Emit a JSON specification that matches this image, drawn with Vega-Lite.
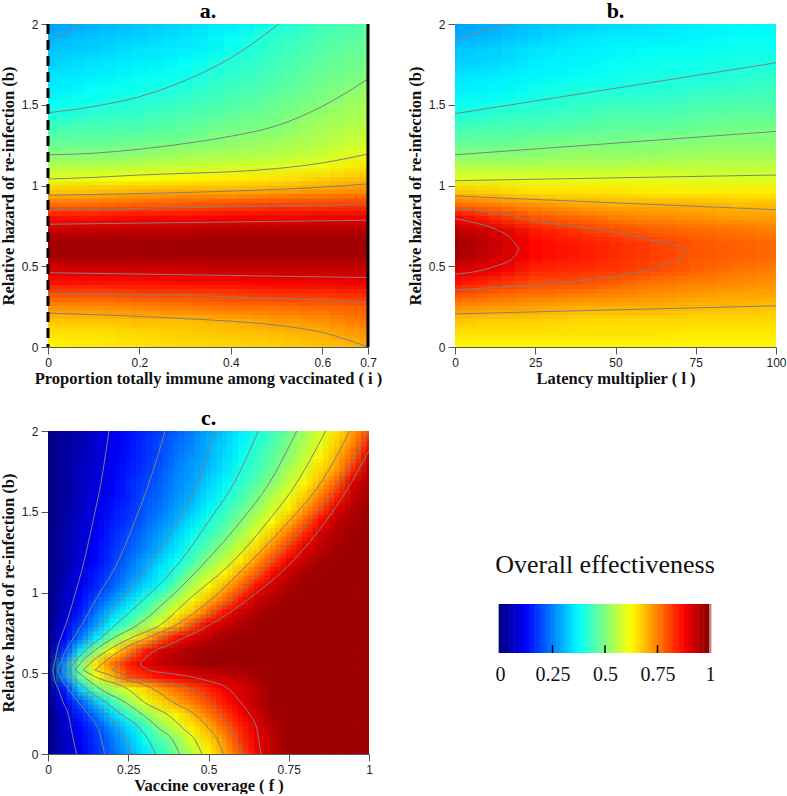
{"$schema":"https://vega.github.io/schema/vega-lite/v6.json","padding":0,"background":"white","config":{"view":{"stroke":null},"axis":{"grid":false,"labelFont":"Liberation Sans","labelFontSize":12,"labelColor":"#222","tickColor":"#555","domainColor":"#555","tickSize":7,"labelPadding":3,"titleFont":"Liberation Serif","titleFontWeight":"bold","titleFontSize":16.5,"titleColor":"#111","labelFlush":false,"labelOverlap":false},"title":{"font":"Liberation Serif","fontWeight":"bold","fontSize":22,"color":"#000","offset":-5}},
"datasets":{
"a":[{"x":0,"y":0,"v":63},{"x":0,"y":0.08,"v":65},{"x":0,"y":0.16,"v":68},{"x":0,"y":0.24,"v":73},{"x":0,"y":0.32,"v":79},{"x":0,"y":0.4,"v":86},{"x":0,"y":0.48,"v":91},{"x":0,"y":0.56,"v":96},{"x":0,"y":0.64,"v":97},{"x":0,"y":0.72,"v":93},{"x":0,"y":0.8,"v":86},{"x":0,"y":0.88,"v":77},{"x":0,"y":0.96,"v":68},{"x":0,"y":1.04,"v":60},{"x":0,"y":1.12,"v":55},{"x":0,"y":1.2,"v":50},{"x":0,"y":1.28,"v":47},{"x":0,"y":1.36,"v":44},{"x":0,"y":1.44,"v":40},{"x":0,"y":1.52,"v":38},{"x":0,"y":1.6,"v":36},{"x":0,"y":1.68,"v":35},{"x":0,"y":1.76,"v":33},{"x":0,"y":1.84,"v":32},{"x":0,"y":1.92,"v":30},{"x":0,"y":2,"v":28},
{"x":0.1,"y":0,"v":64},{"x":0.1,"y":0.08,"v":65},{"x":0.1,"y":0.16,"v":68},{"x":0.1,"y":0.24,"v":73},{"x":0.1,"y":0.32,"v":79},{"x":0.1,"y":0.4,"v":86},{"x":0.1,"y":0.48,"v":92},{"x":0.1,"y":0.56,"v":96},{"x":0.1,"y":0.64,"v":97},{"x":0.1,"y":0.72,"v":93},{"x":0.1,"y":0.8,"v":86},{"x":0.1,"y":0.88,"v":77},{"x":0.1,"y":0.96,"v":69},{"x":0.1,"y":1.04,"v":61},{"x":0.1,"y":1.12,"v":55},{"x":0.1,"y":1.2,"v":50},{"x":0.1,"y":1.28,"v":47},{"x":0.1,"y":1.36,"v":45},{"x":0.1,"y":1.44,"v":42},{"x":0.1,"y":1.52,"v":39},{"x":0.1,"y":1.6,"v":38},{"x":0.1,"y":1.68,"v":36},{"x":0.1,"y":1.76,"v":35},{"x":0.1,"y":1.84,"v":33},{"x":0.1,"y":1.92,"v":32},{"x":0.1,"y":2,"v":30},
{"x":0.2,"y":0,"v":65},{"x":0.2,"y":0.08,"v":66},{"x":0.2,"y":0.16,"v":69},{"x":0.2,"y":0.24,"v":74},{"x":0.2,"y":0.32,"v":80},{"x":0.2,"y":0.4,"v":86},{"x":0.2,"y":0.48,"v":92},{"x":0.2,"y":0.56,"v":96},{"x":0.2,"y":0.64,"v":97},{"x":0.2,"y":0.72,"v":94},{"x":0.2,"y":0.8,"v":87},{"x":0.2,"y":0.88,"v":78},{"x":0.2,"y":0.96,"v":70},{"x":0.2,"y":1.04,"v":62},{"x":0.2,"y":1.12,"v":56},{"x":0.2,"y":1.2,"v":51},{"x":0.2,"y":1.28,"v":48},{"x":0.2,"y":1.36,"v":45},{"x":0.2,"y":1.44,"v":43},{"x":0.2,"y":1.52,"v":41},{"x":0.2,"y":1.6,"v":39},{"x":0.2,"y":1.68,"v":38},{"x":0.2,"y":1.76,"v":36},{"x":0.2,"y":1.84,"v":35},{"x":0.2,"y":1.92,"v":33},{"x":0.2,"y":2,"v":32},
{"x":0.3,"y":0,"v":66},{"x":0.3,"y":0.08,"v":67},{"x":0.3,"y":0.16,"v":69},{"x":0.3,"y":0.24,"v":75},{"x":0.3,"y":0.32,"v":80},{"x":0.3,"y":0.4,"v":87},{"x":0.3,"y":0.48,"v":92},{"x":0.3,"y":0.56,"v":96},{"x":0.3,"y":0.64,"v":97},{"x":0.3,"y":0.72,"v":94},{"x":0.3,"y":0.8,"v":87},{"x":0.3,"y":0.88,"v":79},{"x":0.3,"y":0.96,"v":71},{"x":0.3,"y":1.04,"v":63},{"x":0.3,"y":1.12,"v":57},{"x":0.3,"y":1.2,"v":53},{"x":0.3,"y":1.28,"v":49},{"x":0.3,"y":1.36,"v":47},{"x":0.3,"y":1.44,"v":45},{"x":0.3,"y":1.52,"v":43},{"x":0.3,"y":1.6,"v":41},{"x":0.3,"y":1.68,"v":39},{"x":0.3,"y":1.76,"v":38},{"x":0.3,"y":1.84,"v":36},{"x":0.3,"y":1.92,"v":35},{"x":0.3,"y":2,"v":34},
{"x":0.4,"y":0,"v":66},{"x":0.4,"y":0.08,"v":68},{"x":0.4,"y":0.16,"v":70},{"x":0.4,"y":0.24,"v":76},{"x":0.4,"y":0.32,"v":81},{"x":0.4,"y":0.4,"v":87},{"x":0.4,"y":0.48,"v":93},{"x":0.4,"y":0.56,"v":96},{"x":0.4,"y":0.64,"v":97},{"x":0.4,"y":0.72,"v":95},{"x":0.4,"y":0.8,"v":88},{"x":0.4,"y":0.88,"v":80},{"x":0.4,"y":0.96,"v":71},{"x":0.4,"y":1.04,"v":64},{"x":0.4,"y":1.12,"v":58},{"x":0.4,"y":1.2,"v":54},{"x":0.4,"y":1.28,"v":51},{"x":0.4,"y":1.36,"v":49},{"x":0.4,"y":1.44,"v":47},{"x":0.4,"y":1.52,"v":45},{"x":0.4,"y":1.6,"v":44},{"x":0.4,"y":1.68,"v":42},{"x":0.4,"y":1.76,"v":41},{"x":0.4,"y":1.84,"v":39},{"x":0.4,"y":1.92,"v":38},{"x":0.4,"y":2,"v":36},
{"x":0.5,"y":0,"v":67},{"x":0.5,"y":0.08,"v":69},{"x":0.5,"y":0.16,"v":72},{"x":0.5,"y":0.24,"v":76},{"x":0.5,"y":0.32,"v":82},{"x":0.5,"y":0.4,"v":88},{"x":0.5,"y":0.48,"v":93},{"x":0.5,"y":0.56,"v":96},{"x":0.5,"y":0.64,"v":97},{"x":0.5,"y":0.72,"v":95},{"x":0.5,"y":0.8,"v":88},{"x":0.5,"y":0.88,"v":81},{"x":0.5,"y":0.96,"v":72},{"x":0.5,"y":1.04,"v":65},{"x":0.5,"y":1.12,"v":59},{"x":0.5,"y":1.2,"v":55},{"x":0.5,"y":1.28,"v":53},{"x":0.5,"y":1.36,"v":50},{"x":0.5,"y":1.44,"v":49},{"x":0.5,"y":1.52,"v":48},{"x":0.5,"y":1.6,"v":46},{"x":0.5,"y":1.68,"v":45},{"x":0.5,"y":1.76,"v":44},{"x":0.5,"y":1.84,"v":43},{"x":0.5,"y":1.92,"v":42},{"x":0.5,"y":2,"v":40},
{"x":0.6,"y":0,"v":68},{"x":0.6,"y":0.08,"v":70},{"x":0.6,"y":0.16,"v":73},{"x":0.6,"y":0.24,"v":77},{"x":0.6,"y":0.32,"v":82},{"x":0.6,"y":0.4,"v":88},{"x":0.6,"y":0.48,"v":93},{"x":0.6,"y":0.56,"v":96},{"x":0.6,"y":0.64,"v":97},{"x":0.6,"y":0.72,"v":95},{"x":0.6,"y":0.8,"v":89},{"x":0.6,"y":0.88,"v":81},{"x":0.6,"y":0.96,"v":73},{"x":0.6,"y":1.04,"v":67},{"x":0.6,"y":1.12,"v":61},{"x":0.6,"y":1.2,"v":57},{"x":0.6,"y":1.28,"v":55},{"x":0.6,"y":1.36,"v":54},{"x":0.6,"y":1.44,"v":52},{"x":0.6,"y":1.52,"v":50},{"x":0.6,"y":1.6,"v":49},{"x":0.6,"y":1.68,"v":48},{"x":0.6,"y":1.76,"v":47},{"x":0.6,"y":1.84,"v":46},{"x":0.6,"y":1.92,"v":45},{"x":0.6,"y":2,"v":44},
{"x":0.7,"y":0,"v":70},{"x":0.7,"y":0.08,"v":73},{"x":0.7,"y":0.16,"v":76},{"x":0.7,"y":0.24,"v":78},{"x":0.7,"y":0.32,"v":83},{"x":0.7,"y":0.4,"v":89},{"x":0.7,"y":0.48,"v":93},{"x":0.7,"y":0.56,"v":96},{"x":0.7,"y":0.64,"v":97},{"x":0.7,"y":0.72,"v":95},{"x":0.7,"y":0.8,"v":89},{"x":0.7,"y":0.88,"v":82},{"x":0.7,"y":0.96,"v":74},{"x":0.7,"y":1.04,"v":69},{"x":0.7,"y":1.12,"v":65},{"x":0.7,"y":1.2,"v":60},{"x":0.7,"y":1.28,"v":58},{"x":0.7,"y":1.36,"v":56},{"x":0.7,"y":1.44,"v":55},{"x":0.7,"y":1.52,"v":54},{"x":0.7,"y":1.6,"v":52},{"x":0.7,"y":1.68,"v":50},{"x":0.7,"y":1.76,"v":49},{"x":0.7,"y":1.84,"v":48},{"x":0.7,"y":1.92,"v":47},{"x":0.7,"y":2,"v":46}],
"b":[{"x":0,"y":0,"v":63},{"x":0,"y":0.08,"v":65},{"x":0,"y":0.16,"v":68},{"x":0,"y":0.24,"v":73},{"x":0,"y":0.32,"v":79},{"x":0,"y":0.4,"v":86},{"x":0,"y":0.48,"v":91},{"x":0,"y":0.56,"v":96},{"x":0,"y":0.64,"v":97},{"x":0,"y":0.72,"v":94},{"x":0,"y":0.8,"v":88},{"x":0,"y":0.88,"v":77},{"x":0,"y":0.96,"v":68},{"x":0,"y":1.04,"v":60},{"x":0,"y":1.12,"v":55},{"x":0,"y":1.2,"v":50},{"x":0,"y":1.28,"v":47},{"x":0,"y":1.36,"v":44},{"x":0,"y":1.44,"v":40},{"x":0,"y":1.52,"v":38},{"x":0,"y":1.6,"v":36},{"x":0,"y":1.68,"v":35},{"x":0,"y":1.76,"v":33},{"x":0,"y":1.84,"v":32},{"x":0,"y":1.92,"v":30},{"x":0,"y":2,"v":28},
{"x":12.5,"y":0,"v":63},{"x":12.5,"y":0.08,"v":65},{"x":12.5,"y":0.16,"v":67},{"x":12.5,"y":0.24,"v":72},{"x":12.5,"y":0.32,"v":77},{"x":12.5,"y":0.4,"v":83},{"x":12.5,"y":0.48,"v":89},{"x":12.5,"y":0.56,"v":92},{"x":12.5,"y":0.64,"v":93},{"x":12.5,"y":0.72,"v":91},{"x":12.5,"y":0.8,"v":83},{"x":12.5,"y":0.88,"v":75},{"x":12.5,"y":0.96,"v":67},{"x":12.5,"y":1.04,"v":60},{"x":12.5,"y":1.12,"v":55},{"x":12.5,"y":1.2,"v":50},{"x":12.5,"y":1.28,"v":47},{"x":12.5,"y":1.36,"v":45},{"x":12.5,"y":1.44,"v":42},{"x":12.5,"y":1.52,"v":39},{"x":12.5,"y":1.6,"v":37},{"x":12.5,"y":1.68,"v":36},{"x":12.5,"y":1.76,"v":34},{"x":12.5,"y":1.84,"v":33},{"x":12.5,"y":1.92,"v":31},{"x":12.5,"y":2,"v":30},
{"x":25,"y":0,"v":63},{"x":25,"y":0.08,"v":65},{"x":25,"y":0.16,"v":67},{"x":25,"y":0.24,"v":71},{"x":25,"y":0.32,"v":76},{"x":25,"y":0.4,"v":80},{"x":25,"y":0.48,"v":84},{"x":25,"y":0.56,"v":87},{"x":25,"y":0.64,"v":87},{"x":25,"y":0.72,"v":85},{"x":25,"y":0.8,"v":79},{"x":25,"y":0.88,"v":73},{"x":25,"y":0.96,"v":65},{"x":25,"y":1.04,"v":60},{"x":25,"y":1.12,"v":55},{"x":25,"y":1.2,"v":51},{"x":25,"y":1.28,"v":48},{"x":25,"y":1.36,"v":45},{"x":25,"y":1.44,"v":43},{"x":25,"y":1.52,"v":40},{"x":25,"y":1.6,"v":39},{"x":25,"y":1.68,"v":37},{"x":25,"y":1.76,"v":36},{"x":25,"y":1.84,"v":35},{"x":25,"y":1.92,"v":33},{"x":25,"y":2,"v":32},
{"x":37.5,"y":0,"v":63},{"x":37.5,"y":0.08,"v":65},{"x":37.5,"y":0.16,"v":66},{"x":37.5,"y":0.24,"v":70},{"x":37.5,"y":0.32,"v":75},{"x":37.5,"y":0.4,"v":80},{"x":37.5,"y":0.48,"v":83},{"x":37.5,"y":0.56,"v":85},{"x":37.5,"y":0.64,"v":85},{"x":37.5,"y":0.72,"v":82},{"x":37.5,"y":0.8,"v":77},{"x":37.5,"y":0.88,"v":71},{"x":37.5,"y":0.96,"v":65},{"x":37.5,"y":1.04,"v":60},{"x":37.5,"y":1.12,"v":55},{"x":37.5,"y":1.2,"v":52},{"x":37.5,"y":1.28,"v":49},{"x":37.5,"y":1.36,"v":46},{"x":37.5,"y":1.44,"v":44},{"x":37.5,"y":1.52,"v":42},{"x":37.5,"y":1.6,"v":40},{"x":37.5,"y":1.68,"v":38},{"x":37.5,"y":1.76,"v":37},{"x":37.5,"y":1.84,"v":36},{"x":37.5,"y":1.92,"v":35},{"x":37.5,"y":2,"v":33},
{"x":50,"y":0,"v":63},{"x":50,"y":0.08,"v":65},{"x":50,"y":0.16,"v":66},{"x":50,"y":0.24,"v":70},{"x":50,"y":0.32,"v":74},{"x":50,"y":0.4,"v":78},{"x":50,"y":0.48,"v":82},{"x":50,"y":0.56,"v":83},{"x":50,"y":0.64,"v":83},{"x":50,"y":0.72,"v":80},{"x":50,"y":0.8,"v":75},{"x":50,"y":0.88,"v":70},{"x":50,"y":0.96,"v":65},{"x":50,"y":1.04,"v":60},{"x":50,"y":1.12,"v":55},{"x":50,"y":1.2,"v":52},{"x":50,"y":1.28,"v":49},{"x":50,"y":1.36,"v":47},{"x":50,"y":1.44,"v":45},{"x":50,"y":1.52,"v":43},{"x":50,"y":1.6,"v":40},{"x":50,"y":1.68,"v":39},{"x":50,"y":1.76,"v":38},{"x":50,"y":1.84,"v":37},{"x":50,"y":1.92,"v":36},{"x":50,"y":2,"v":34},
{"x":62.5,"y":0,"v":63},{"x":62.5,"y":0.08,"v":65},{"x":62.5,"y":0.16,"v":66},{"x":62.5,"y":0.24,"v":70},{"x":62.5,"y":0.32,"v":73},{"x":62.5,"y":0.4,"v":76},{"x":62.5,"y":0.48,"v":80},{"x":62.5,"y":0.56,"v":81},{"x":62.5,"y":0.64,"v":81},{"x":62.5,"y":0.72,"v":78},{"x":62.5,"y":0.8,"v":74},{"x":62.5,"y":0.88,"v":70},{"x":62.5,"y":0.96,"v":64},{"x":62.5,"y":1.04,"v":60},{"x":62.5,"y":1.12,"v":56},{"x":62.5,"y":1.2,"v":52},{"x":62.5,"y":1.28,"v":50},{"x":62.5,"y":1.36,"v":47},{"x":62.5,"y":1.44,"v":45},{"x":62.5,"y":1.52,"v":43},{"x":62.5,"y":1.6,"v":41},{"x":62.5,"y":1.68,"v":40},{"x":62.5,"y":1.76,"v":39},{"x":62.5,"y":1.84,"v":38},{"x":62.5,"y":1.92,"v":36},{"x":62.5,"y":2,"v":35},
{"x":75,"y":0,"v":63},{"x":75,"y":0.08,"v":64},{"x":75,"y":0.16,"v":66},{"x":75,"y":0.24,"v":69},{"x":75,"y":0.32,"v":72},{"x":75,"y":0.4,"v":75},{"x":75,"y":0.48,"v":78},{"x":75,"y":0.56,"v":79},{"x":75,"y":0.64,"v":79},{"x":75,"y":0.72,"v":77},{"x":75,"y":0.8,"v":73},{"x":75,"y":0.88,"v":70},{"x":75,"y":0.96,"v":64},{"x":75,"y":1.04,"v":59},{"x":75,"y":1.12,"v":56},{"x":75,"y":1.2,"v":53},{"x":75,"y":1.28,"v":50},{"x":75,"y":1.36,"v":48},{"x":75,"y":1.44,"v":46},{"x":75,"y":1.52,"v":44},{"x":75,"y":1.6,"v":42},{"x":75,"y":1.68,"v":40},{"x":75,"y":1.76,"v":39},{"x":75,"y":1.84,"v":38},{"x":75,"y":1.92,"v":37},{"x":75,"y":2,"v":36},
{"x":87.5,"y":0,"v":63},{"x":87.5,"y":0.08,"v":64},{"x":87.5,"y":0.16,"v":66},{"x":87.5,"y":0.24,"v":69},{"x":87.5,"y":0.32,"v":71},{"x":87.5,"y":0.4,"v":74},{"x":87.5,"y":0.48,"v":76},{"x":87.5,"y":0.56,"v":78},{"x":87.5,"y":0.64,"v":78},{"x":87.5,"y":0.72,"v":76},{"x":87.5,"y":0.8,"v":72},{"x":87.5,"y":0.88,"v":69},{"x":87.5,"y":0.96,"v":64},{"x":87.5,"y":1.04,"v":59},{"x":87.5,"y":1.12,"v":56},{"x":87.5,"y":1.2,"v":53},{"x":87.5,"y":1.28,"v":51},{"x":87.5,"y":1.36,"v":49},{"x":87.5,"y":1.44,"v":47},{"x":87.5,"y":1.52,"v":45},{"x":87.5,"y":1.6,"v":43},{"x":87.5,"y":1.68,"v":41},{"x":87.5,"y":1.76,"v":40},{"x":87.5,"y":1.84,"v":39},{"x":87.5,"y":1.92,"v":38},{"x":87.5,"y":2,"v":37},
{"x":100,"y":0,"v":63},{"x":100,"y":0.08,"v":64},{"x":100,"y":0.16,"v":66},{"x":100,"y":0.24,"v":68},{"x":100,"y":0.32,"v":71},{"x":100,"y":0.4,"v":73},{"x":100,"y":0.48,"v":75},{"x":100,"y":0.56,"v":77},{"x":100,"y":0.64,"v":77},{"x":100,"y":0.72,"v":75},{"x":100,"y":0.8,"v":72},{"x":100,"y":0.88,"v":69},{"x":100,"y":0.96,"v":64},{"x":100,"y":1.04,"v":59},{"x":100,"y":1.12,"v":56},{"x":100,"y":1.2,"v":53},{"x":100,"y":1.28,"v":51},{"x":100,"y":1.36,"v":49},{"x":100,"y":1.44,"v":47},{"x":100,"y":1.52,"v":45},{"x":100,"y":1.6,"v":44},{"x":100,"y":1.68,"v":42},{"x":100,"y":1.76,"v":40},{"x":100,"y":1.84,"v":39},{"x":100,"y":1.92,"v":38},{"x":100,"y":2,"v":37}],
"c":[{"x":0,"y":0,"v":0},{"x":0.05,"y":0,"v":6},{"x":0.1,"y":0,"v":11},{"x":0.15,"y":0,"v":17},{"x":0.2,"y":0,"v":23},{"x":0.25,"y":0,"v":29},{"x":0.3,"y":0,"v":35},{"x":0.35,"y":0,"v":42},{"x":0.4,"y":0,"v":49},{"x":0.45,"y":0,"v":56},{"x":0.5,"y":0,"v":63},{"x":0.55,"y":0,"v":71},{"x":0.6,"y":0,"v":79},{"x":0.65,"y":0,"v":88},{"x":0.7,"y":0,"v":94},{"x":0.75,"y":0,"v":97},{"x":0.8,"y":0,"v":97},{"x":0.85,"y":0,"v":97},{"x":0.9,"y":0,"v":97},{"x":0.95,"y":0,"v":97},{"x":1,"y":0,"v":97},
{"x":0,"y":0.08,"v":0},{"x":0.05,"y":0.08,"v":6},{"x":0.1,"y":0.08,"v":12},{"x":0.15,"y":0.08,"v":18},{"x":0.2,"y":0.08,"v":24},{"x":0.25,"y":0.08,"v":31},{"x":0.3,"y":0.08,"v":38},{"x":0.35,"y":0.08,"v":45},{"x":0.4,"y":0.08,"v":51},{"x":0.45,"y":0.08,"v":59},{"x":0.5,"y":0.08,"v":66},{"x":0.55,"y":0.08,"v":73},{"x":0.6,"y":0.08,"v":82},{"x":0.65,"y":0.08,"v":89},{"x":0.7,"y":0.08,"v":94},{"x":0.75,"y":0.08,"v":97},{"x":0.8,"y":0.08,"v":97},{"x":0.85,"y":0.08,"v":97},{"x":0.9,"y":0.08,"v":97},{"x":0.95,"y":0.08,"v":97},{"x":1,"y":0.08,"v":97},
{"x":0,"y":0.16,"v":0},{"x":0.05,"y":0.16,"v":7},{"x":0.1,"y":0.16,"v":13},{"x":0.15,"y":0.16,"v":19},{"x":0.2,"y":0.16,"v":27},{"x":0.25,"y":0.16,"v":34},{"x":0.3,"y":0.16,"v":42},{"x":0.35,"y":0.16,"v":51},{"x":0.4,"y":0.16,"v":57},{"x":0.45,"y":0.16,"v":64},{"x":0.5,"y":0.16,"v":70},{"x":0.55,"y":0.16,"v":77},{"x":0.6,"y":0.16,"v":84},{"x":0.65,"y":0.16,"v":90},{"x":0.7,"y":0.16,"v":95},{"x":0.75,"y":0.16,"v":97},{"x":0.8,"y":0.16,"v":97},{"x":0.85,"y":0.16,"v":97},{"x":0.9,"y":0.16,"v":97},{"x":0.95,"y":0.16,"v":97},{"x":1,"y":0.16,"v":97},
{"x":0,"y":0.24,"v":0},{"x":0.05,"y":0.24,"v":8},{"x":0.1,"y":0.24,"v":16},{"x":0.15,"y":0.24,"v":24},{"x":0.2,"y":0.24,"v":33},{"x":0.25,"y":0.24,"v":42},{"x":0.3,"y":0.24,"v":50},{"x":0.35,"y":0.24,"v":57},{"x":0.4,"y":0.24,"v":63},{"x":0.45,"y":0.24,"v":69},{"x":0.5,"y":0.24,"v":75},{"x":0.55,"y":0.24,"v":81},{"x":0.6,"y":0.24,"v":87},{"x":0.65,"y":0.24,"v":92},{"x":0.7,"y":0.24,"v":96},{"x":0.75,"y":0.24,"v":97},{"x":0.8,"y":0.24,"v":97},{"x":0.85,"y":0.24,"v":97},{"x":0.9,"y":0.24,"v":97},{"x":0.95,"y":0.24,"v":97},{"x":1,"y":0.24,"v":97},
{"x":0,"y":0.32,"v":0},{"x":0.05,"y":0.32,"v":11},{"x":0.1,"y":0.32,"v":21},{"x":0.15,"y":0.32,"v":32},{"x":0.2,"y":0.32,"v":43},{"x":0.25,"y":0.32,"v":52},{"x":0.3,"y":0.32,"v":60},{"x":0.35,"y":0.32,"v":66},{"x":0.4,"y":0.32,"v":71},{"x":0.45,"y":0.32,"v":75},{"x":0.5,"y":0.32,"v":80},{"x":0.55,"y":0.32,"v":85},{"x":0.6,"y":0.32,"v":90},{"x":0.65,"y":0.32,"v":94},{"x":0.7,"y":0.32,"v":97},{"x":0.75,"y":0.32,"v":97},{"x":0.8,"y":0.32,"v":97},{"x":0.85,"y":0.32,"v":97},{"x":0.9,"y":0.32,"v":97},{"x":0.95,"y":0.32,"v":97},{"x":1,"y":0.32,"v":97},
{"x":0,"y":0.4,"v":0},{"x":0.05,"y":0.4,"v":15},{"x":0.1,"y":0.4,"v":33},{"x":0.15,"y":0.4,"v":47},{"x":0.2,"y":0.4,"v":54},{"x":0.25,"y":0.4,"v":60},{"x":0.3,"y":0.4,"v":66},{"x":0.35,"y":0.4,"v":72},{"x":0.4,"y":0.4,"v":76},{"x":0.45,"y":0.4,"v":80},{"x":0.5,"y":0.4,"v":84},{"x":0.55,"y":0.4,"v":88},{"x":0.6,"y":0.4,"v":91},{"x":0.65,"y":0.4,"v":94},{"x":0.7,"y":0.4,"v":97},{"x":0.75,"y":0.4,"v":97},{"x":0.8,"y":0.4,"v":97},{"x":0.85,"y":0.4,"v":97},{"x":0.9,"y":0.4,"v":97},{"x":0.95,"y":0.4,"v":97},{"x":1,"y":0.4,"v":97},
{"x":0,"y":0.48,"v":0},{"x":0.05,"y":0.48,"v":26},{"x":0.1,"y":0.48,"v":47},{"x":0.15,"y":0.48,"v":61},{"x":0.2,"y":0.48,"v":69},{"x":0.25,"y":0.48,"v":80},{"x":0.3,"y":0.48,"v":83},{"x":0.35,"y":0.48,"v":86},{"x":0.4,"y":0.48,"v":88},{"x":0.45,"y":0.48,"v":91},{"x":0.5,"y":0.48,"v":92},{"x":0.55,"y":0.48,"v":93},{"x":0.6,"y":0.48,"v":94},{"x":0.65,"y":0.48,"v":96},{"x":0.7,"y":0.48,"v":97},{"x":0.75,"y":0.48,"v":97},{"x":0.8,"y":0.48,"v":97},{"x":0.85,"y":0.48,"v":97},{"x":0.9,"y":0.48,"v":97},{"x":0.95,"y":0.48,"v":97},{"x":1,"y":0.48,"v":97},
{"x":0,"y":0.56,"v":0},{"x":0.05,"y":0.56,"v":26},{"x":0.1,"y":0.56,"v":50},{"x":0.15,"y":0.56,"v":65},{"x":0.2,"y":0.56,"v":76},{"x":0.25,"y":0.56,"v":84},{"x":0.3,"y":0.56,"v":90},{"x":0.35,"y":0.56,"v":93},{"x":0.4,"y":0.56,"v":95},{"x":0.45,"y":0.56,"v":96},{"x":0.5,"y":0.56,"v":97},{"x":0.55,"y":0.56,"v":97},{"x":0.6,"y":0.56,"v":97},{"x":0.65,"y":0.56,"v":97},{"x":0.7,"y":0.56,"v":97},{"x":0.75,"y":0.56,"v":97},{"x":0.8,"y":0.56,"v":97},{"x":0.85,"y":0.56,"v":97},{"x":0.9,"y":0.56,"v":97},{"x":0.95,"y":0.56,"v":97},{"x":1,"y":0.56,"v":97},
{"x":0,"y":0.64,"v":0},{"x":0.05,"y":0.64,"v":18},{"x":0.1,"y":0.64,"v":35},{"x":0.15,"y":0.64,"v":51},{"x":0.2,"y":0.64,"v":63},{"x":0.25,"y":0.64,"v":74},{"x":0.3,"y":0.64,"v":84},{"x":0.35,"y":0.64,"v":91},{"x":0.4,"y":0.64,"v":94},{"x":0.45,"y":0.64,"v":96},{"x":0.5,"y":0.64,"v":97},{"x":0.55,"y":0.64,"v":97},{"x":0.6,"y":0.64,"v":97},{"x":0.65,"y":0.64,"v":97},{"x":0.7,"y":0.64,"v":97},{"x":0.75,"y":0.64,"v":97},{"x":0.8,"y":0.64,"v":97},{"x":0.85,"y":0.64,"v":97},{"x":0.9,"y":0.64,"v":97},{"x":0.95,"y":0.64,"v":97},{"x":1,"y":0.64,"v":97},
{"x":0,"y":0.72,"v":0},{"x":0.05,"y":0.72,"v":12},{"x":0.1,"y":0.72,"v":24},{"x":0.15,"y":0.72,"v":36},{"x":0.2,"y":0.72,"v":49},{"x":0.25,"y":0.72,"v":58},{"x":0.3,"y":0.72,"v":68},{"x":0.35,"y":0.72,"v":78},{"x":0.4,"y":0.72,"v":86},{"x":0.45,"y":0.72,"v":91},{"x":0.5,"y":0.72,"v":94},{"x":0.55,"y":0.72,"v":96},{"x":0.6,"y":0.72,"v":97},{"x":0.65,"y":0.72,"v":97},{"x":0.7,"y":0.72,"v":97},{"x":0.75,"y":0.72,"v":97},{"x":0.8,"y":0.72,"v":97},{"x":0.85,"y":0.72,"v":97},{"x":0.9,"y":0.72,"v":97},{"x":0.95,"y":0.72,"v":97},{"x":1,"y":0.72,"v":97},
{"x":0,"y":0.8,"v":0},{"x":0.05,"y":0.8,"v":9},{"x":0.1,"y":0.8,"v":19},{"x":0.15,"y":0.8,"v":28},{"x":0.2,"y":0.8,"v":38},{"x":0.25,"y":0.8,"v":46},{"x":0.3,"y":0.8,"v":53},{"x":0.35,"y":0.8,"v":60},{"x":0.4,"y":0.8,"v":70},{"x":0.45,"y":0.8,"v":80},{"x":0.5,"y":0.8,"v":89},{"x":0.55,"y":0.8,"v":93},{"x":0.6,"y":0.8,"v":95},{"x":0.65,"y":0.8,"v":97},{"x":0.7,"y":0.8,"v":97},{"x":0.75,"y":0.8,"v":97},{"x":0.8,"y":0.8,"v":97},{"x":0.85,"y":0.8,"v":97},{"x":0.9,"y":0.8,"v":97},{"x":0.95,"y":0.8,"v":97},{"x":1,"y":0.8,"v":97},
{"x":0,"y":0.88,"v":0},{"x":0.05,"y":0.88,"v":7},{"x":0.1,"y":0.88,"v":15},{"x":0.15,"y":0.88,"v":24},{"x":0.2,"y":0.88,"v":32},{"x":0.25,"y":0.88,"v":39},{"x":0.3,"y":0.88,"v":46},{"x":0.35,"y":0.88,"v":53},{"x":0.4,"y":0.88,"v":61},{"x":0.45,"y":0.88,"v":68},{"x":0.5,"y":0.88,"v":77},{"x":0.55,"y":0.88,"v":86},{"x":0.6,"y":0.88,"v":92},{"x":0.65,"y":0.88,"v":95},{"x":0.7,"y":0.88,"v":97},{"x":0.75,"y":0.88,"v":97},{"x":0.8,"y":0.88,"v":97},{"x":0.85,"y":0.88,"v":97},{"x":0.9,"y":0.88,"v":97},{"x":0.95,"y":0.88,"v":97},{"x":1,"y":0.88,"v":97},
{"x":0,"y":0.96,"v":0},{"x":0.05,"y":0.96,"v":6},{"x":0.1,"y":0.96,"v":13},{"x":0.15,"y":0.96,"v":20},{"x":0.2,"y":0.96,"v":26},{"x":0.25,"y":0.96,"v":33},{"x":0.3,"y":0.96,"v":40},{"x":0.35,"y":0.96,"v":47},{"x":0.4,"y":0.96,"v":54},{"x":0.45,"y":0.96,"v":61},{"x":0.5,"y":0.96,"v":69},{"x":0.55,"y":0.96,"v":76},{"x":0.6,"y":0.96,"v":85},{"x":0.65,"y":0.96,"v":92},{"x":0.7,"y":0.96,"v":95},{"x":0.75,"y":0.96,"v":97},{"x":0.8,"y":0.96,"v":97},{"x":0.85,"y":0.96,"v":97},{"x":0.9,"y":0.96,"v":97},{"x":0.95,"y":0.96,"v":97},{"x":1,"y":0.96,"v":97},
{"x":0,"y":1.04,"v":0},{"x":0.05,"y":1.04,"v":5},{"x":0.1,"y":1.04,"v":11},{"x":0.15,"y":1.04,"v":16},{"x":0.2,"y":1.04,"v":22},{"x":0.25,"y":1.04,"v":28},{"x":0.3,"y":1.04,"v":34},{"x":0.35,"y":1.04,"v":39},{"x":0.4,"y":1.04,"v":47},{"x":0.45,"y":1.04,"v":55},{"x":0.5,"y":1.04,"v":62},{"x":0.55,"y":1.04,"v":70},{"x":0.6,"y":1.04,"v":77},{"x":0.65,"y":1.04,"v":86},{"x":0.7,"y":1.04,"v":92},{"x":0.75,"y":1.04,"v":95},{"x":0.8,"y":1.04,"v":97},{"x":0.85,"y":1.04,"v":97},{"x":0.9,"y":1.04,"v":97},{"x":0.95,"y":1.04,"v":97},{"x":1,"y":1.04,"v":97},
{"x":0,"y":1.12,"v":0},{"x":0.05,"y":1.12,"v":5},{"x":0.1,"y":1.12,"v":10},{"x":0.15,"y":1.12,"v":15},{"x":0.2,"y":1.12,"v":20},{"x":0.25,"y":1.12,"v":25},{"x":0.3,"y":1.12,"v":30},{"x":0.35,"y":1.12,"v":36},{"x":0.4,"y":1.12,"v":42},{"x":0.45,"y":1.12,"v":50},{"x":0.5,"y":1.12,"v":56},{"x":0.55,"y":1.12,"v":63},{"x":0.6,"y":1.12,"v":71},{"x":0.65,"y":1.12,"v":78},{"x":0.7,"y":1.12,"v":87},{"x":0.75,"y":1.12,"v":93},{"x":0.8,"y":1.12,"v":96},{"x":0.85,"y":1.12,"v":97},{"x":0.9,"y":1.12,"v":97},{"x":0.95,"y":1.12,"v":97},{"x":1,"y":1.12,"v":97},
{"x":0,"y":1.2,"v":0},{"x":0.05,"y":1.2,"v":4},{"x":0.1,"y":1.2,"v":9},{"x":0.15,"y":1.2,"v":13},{"x":0.2,"y":1.2,"v":18},{"x":0.25,"y":1.2,"v":23},{"x":0.3,"y":1.2,"v":28},{"x":0.35,"y":1.2,"v":33},{"x":0.4,"y":1.2,"v":38},{"x":0.45,"y":1.2,"v":44},{"x":0.5,"y":1.2,"v":51},{"x":0.55,"y":1.2,"v":56},{"x":0.6,"y":1.2,"v":64},{"x":0.65,"y":1.2,"v":72},{"x":0.7,"y":1.2,"v":80},{"x":0.75,"y":1.2,"v":88},{"x":0.8,"y":1.2,"v":93},{"x":0.85,"y":1.2,"v":96},{"x":0.9,"y":1.2,"v":97},{"x":0.95,"y":1.2,"v":97},{"x":1,"y":1.2,"v":97},
{"x":0,"y":1.28,"v":0},{"x":0.05,"y":1.28,"v":4},{"x":0.1,"y":1.28,"v":8},{"x":0.15,"y":1.28,"v":13},{"x":0.2,"y":1.28,"v":17},{"x":0.25,"y":1.28,"v":21},{"x":0.3,"y":1.28,"v":25},{"x":0.35,"y":1.28,"v":30},{"x":0.4,"y":1.28,"v":35},{"x":0.45,"y":1.28,"v":41},{"x":0.5,"y":1.28,"v":46},{"x":0.55,"y":1.28,"v":52},{"x":0.6,"y":1.28,"v":58},{"x":0.65,"y":1.28,"v":66},{"x":0.7,"y":1.28,"v":74},{"x":0.75,"y":1.28,"v":82},{"x":0.8,"y":1.28,"v":90},{"x":0.85,"y":1.28,"v":94},{"x":0.9,"y":1.28,"v":96},{"x":0.95,"y":1.28,"v":97},{"x":1,"y":1.28,"v":97},
{"x":0,"y":1.36,"v":0},{"x":0.05,"y":1.36,"v":4},{"x":0.1,"y":1.36,"v":8},{"x":0.15,"y":1.36,"v":12},{"x":0.2,"y":1.36,"v":16},{"x":0.25,"y":1.36,"v":20},{"x":0.3,"y":1.36,"v":24},{"x":0.35,"y":1.36,"v":28},{"x":0.4,"y":1.36,"v":33},{"x":0.45,"y":1.36,"v":38},{"x":0.5,"y":1.36,"v":43},{"x":0.55,"y":1.36,"v":48},{"x":0.6,"y":1.36,"v":54},{"x":0.65,"y":1.36,"v":60},{"x":0.7,"y":1.36,"v":68},{"x":0.75,"y":1.36,"v":76},{"x":0.8,"y":1.36,"v":84},{"x":0.85,"y":1.36,"v":92},{"x":0.9,"y":1.36,"v":95},{"x":0.95,"y":1.36,"v":97},{"x":1,"y":1.36,"v":97},
{"x":0,"y":1.44,"v":0},{"x":0.05,"y":1.44,"v":4},{"x":0.1,"y":1.44,"v":7},{"x":0.15,"y":1.44,"v":11},{"x":0.2,"y":1.44,"v":15},{"x":0.25,"y":1.44,"v":18},{"x":0.3,"y":1.44,"v":22},{"x":0.35,"y":1.44,"v":26},{"x":0.4,"y":1.44,"v":30},{"x":0.45,"y":1.44,"v":35},{"x":0.5,"y":1.44,"v":40},{"x":0.55,"y":1.44,"v":45},{"x":0.6,"y":1.44,"v":50},{"x":0.65,"y":1.44,"v":56},{"x":0.7,"y":1.44,"v":62},{"x":0.75,"y":1.44,"v":70},{"x":0.8,"y":1.44,"v":78},{"x":0.85,"y":1.44,"v":87},{"x":0.9,"y":1.44,"v":94},{"x":0.95,"y":1.44,"v":96},{"x":1,"y":1.44,"v":97},
{"x":0,"y":1.52,"v":0},{"x":0.05,"y":1.52,"v":3},{"x":0.1,"y":1.52,"v":7},{"x":0.15,"y":1.52,"v":10},{"x":0.2,"y":1.52,"v":14},{"x":0.25,"y":1.52,"v":17},{"x":0.3,"y":1.52,"v":21},{"x":0.35,"y":1.52,"v":24},{"x":0.4,"y":1.52,"v":28},{"x":0.45,"y":1.52,"v":32},{"x":0.5,"y":1.52,"v":37},{"x":0.55,"y":1.52,"v":42},{"x":0.6,"y":1.52,"v":47},{"x":0.65,"y":1.52,"v":52},{"x":0.7,"y":1.52,"v":58},{"x":0.75,"y":1.52,"v":64},{"x":0.8,"y":1.52,"v":72},{"x":0.85,"y":1.52,"v":80},{"x":0.9,"y":1.52,"v":90},{"x":0.95,"y":1.52,"v":95},{"x":1,"y":1.52,"v":97},
{"x":0,"y":1.6,"v":0},{"x":0.05,"y":1.6,"v":3},{"x":0.1,"y":1.6,"v":6},{"x":0.15,"y":1.6,"v":10},{"x":0.2,"y":1.6,"v":13},{"x":0.25,"y":1.6,"v":16},{"x":0.3,"y":1.6,"v":20},{"x":0.35,"y":1.6,"v":23},{"x":0.4,"y":1.6,"v":27},{"x":0.45,"y":1.6,"v":30},{"x":0.5,"y":1.6,"v":35},{"x":0.55,"y":1.6,"v":39},{"x":0.6,"y":1.6,"v":44},{"x":0.65,"y":1.6,"v":49},{"x":0.7,"y":1.6,"v":55},{"x":0.75,"y":1.6,"v":60},{"x":0.8,"y":1.6,"v":67},{"x":0.85,"y":1.6,"v":75},{"x":0.9,"y":1.6,"v":84},{"x":0.95,"y":1.6,"v":93},{"x":1,"y":1.6,"v":96},
{"x":0,"y":1.68,"v":0},{"x":0.05,"y":1.68,"v":3},{"x":0.1,"y":1.68,"v":6},{"x":0.15,"y":1.68,"v":9},{"x":0.2,"y":1.68,"v":12},{"x":0.25,"y":1.68,"v":16},{"x":0.3,"y":1.68,"v":19},{"x":0.35,"y":1.68,"v":22},{"x":0.4,"y":1.68,"v":26},{"x":0.45,"y":1.68,"v":29},{"x":0.5,"y":1.68,"v":33},{"x":0.55,"y":1.68,"v":37},{"x":0.6,"y":1.68,"v":42},{"x":0.65,"y":1.68,"v":46},{"x":0.7,"y":1.68,"v":51},{"x":0.75,"y":1.68,"v":57},{"x":0.8,"y":1.68,"v":63},{"x":0.85,"y":1.68,"v":70},{"x":0.9,"y":1.68,"v":78},{"x":0.95,"y":1.68,"v":91},{"x":1,"y":1.68,"v":95},
{"x":0,"y":1.76,"v":0},{"x":0.05,"y":1.76,"v":3},{"x":0.1,"y":1.76,"v":6},{"x":0.15,"y":1.76,"v":9},{"x":0.2,"y":1.76,"v":12},{"x":0.25,"y":1.76,"v":15},{"x":0.3,"y":1.76,"v":18},{"x":0.35,"y":1.76,"v":21},{"x":0.4,"y":1.76,"v":25},{"x":0.45,"y":1.76,"v":28},{"x":0.5,"y":1.76,"v":31},{"x":0.55,"y":1.76,"v":35},{"x":0.6,"y":1.76,"v":40},{"x":0.65,"y":1.76,"v":44},{"x":0.7,"y":1.76,"v":48},{"x":0.75,"y":1.76,"v":54},{"x":0.8,"y":1.76,"v":59},{"x":0.85,"y":1.76,"v":66},{"x":0.9,"y":1.76,"v":72},{"x":0.95,"y":1.76,"v":83},{"x":1,"y":1.76,"v":94},
{"x":0,"y":1.84,"v":0},{"x":0.05,"y":1.84,"v":3},{"x":0.1,"y":1.84,"v":6},{"x":0.15,"y":1.84,"v":8},{"x":0.2,"y":1.84,"v":11},{"x":0.25,"y":1.84,"v":14},{"x":0.3,"y":1.84,"v":17},{"x":0.35,"y":1.84,"v":20},{"x":0.4,"y":1.84,"v":24},{"x":0.45,"y":1.84,"v":27},{"x":0.5,"y":1.84,"v":30},{"x":0.55,"y":1.84,"v":34},{"x":0.6,"y":1.84,"v":38},{"x":0.65,"y":1.84,"v":43},{"x":0.7,"y":1.84,"v":47},{"x":0.75,"y":1.84,"v":51},{"x":0.8,"y":1.84,"v":57},{"x":0.85,"y":1.84,"v":63},{"x":0.9,"y":1.84,"v":70},{"x":0.95,"y":1.84,"v":78},{"x":1,"y":1.84,"v":92},
{"x":0,"y":1.92,"v":0},{"x":0.05,"y":1.92,"v":3},{"x":0.1,"y":1.92,"v":5},{"x":0.15,"y":1.92,"v":8},{"x":0.2,"y":1.92,"v":11},{"x":0.25,"y":1.92,"v":14},{"x":0.3,"y":1.92,"v":17},{"x":0.35,"y":1.92,"v":20},{"x":0.4,"y":1.92,"v":23},{"x":0.45,"y":1.92,"v":26},{"x":0.5,"y":1.92,"v":30},{"x":0.55,"y":1.92,"v":33},{"x":0.6,"y":1.92,"v":37},{"x":0.65,"y":1.92,"v":41},{"x":0.7,"y":1.92,"v":45},{"x":0.75,"y":1.92,"v":50},{"x":0.8,"y":1.92,"v":55},{"x":0.85,"y":1.92,"v":60},{"x":0.9,"y":1.92,"v":67},{"x":0.95,"y":1.92,"v":74},{"x":1,"y":1.92,"v":85},
{"x":0,"y":2,"v":0},{"x":0.05,"y":2,"v":3},{"x":0.1,"y":2,"v":5},{"x":0.15,"y":2,"v":8},{"x":0.2,"y":2,"v":11},{"x":0.25,"y":2,"v":14},{"x":0.3,"y":2,"v":16},{"x":0.35,"y":2,"v":19},{"x":0.4,"y":2,"v":22},{"x":0.45,"y":2,"v":25},{"x":0.5,"y":2,"v":29},{"x":0.55,"y":2,"v":32},{"x":0.6,"y":2,"v":36},{"x":0.65,"y":2,"v":40},{"x":0.7,"y":2,"v":44},{"x":0.75,"y":2,"v":48},{"x":0.8,"y":2,"v":53},{"x":0.85,"y":2,"v":59},{"x":0.9,"y":2,"v":65},{"x":0.95,"y":2,"v":72},{"x":1,"y":2,"v":80}],
"ca":[{"x":0,"y":1.9,"l":"u3"},{"x":0.03,"y":1.93,"l":"u3"},{"x":0.07,"y":2,"l":"u3"},
{"x":0,"y":1.45,"l":"u4"},{"x":0.1,"y":1.49,"l":"u4"},{"x":0.2,"y":1.55,"l":"u4"},{"x":0.3,"y":1.65,"l":"u4"},{"x":0.4,"y":1.79,"l":"u4"},{"x":0.505,"y":2,"l":"u4"},
{"x":0,"y":1.19,"l":"u5"},{"x":0.1,"y":1.2,"l":"u5"},{"x":0.2,"y":1.225,"l":"u5"},{"x":0.3,"y":1.26,"l":"u5"},{"x":0.4,"y":1.305,"l":"u5"},{"x":0.5,"y":1.37,"l":"u5"},{"x":0.6,"y":1.49,"l":"u5"},{"x":0.7,"y":1.66,"l":"u5"},
{"x":0,"y":1.04,"l":"u6"},{"x":0.1,"y":1.05,"l":"u6"},{"x":0.2,"y":1.065,"l":"u6"},{"x":0.3,"y":1.075,"l":"u6"},{"x":0.4,"y":1.085,"l":"u6"},{"x":0.5,"y":1.105,"l":"u6"},{"x":0.6,"y":1.14,"l":"u6"},{"x":0.7,"y":1.195,"l":"u6"},
{"x":0,"y":0.94,"l":"u7"},{"x":0.2,"y":0.95,"l":"u7"},{"x":0.4,"y":0.965,"l":"u7"},{"x":0.6,"y":0.99,"l":"u7"},{"x":0.7,"y":1.01,"l":"u7"},
{"x":0,"y":0.85,"l":"u8"},{"x":0.35,"y":0.865,"l":"u8"},{"x":0.7,"y":0.885,"l":"u8"},
{"x":0,"y":0.76,"l":"u9"},{"x":0.7,"y":0.785,"l":"u9"},
{"x":0,"y":0.46,"l":"d9"},{"x":0.7,"y":0.43,"l":"d9"},
{"x":0,"y":0.335,"l":"d8"},{"x":0.35,"y":0.315,"l":"d8"},{"x":0.7,"y":0.28,"l":"d8"},
{"x":0,"y":0.21,"l":"d7"},{"x":0.1,"y":0.2,"l":"d7"},{"x":0.2,"y":0.19,"l":"d7"},{"x":0.3,"y":0.175,"l":"d7"},{"x":0.4,"y":0.16,"l":"d7"},{"x":0.5,"y":0.135,"l":"d7"},{"x":0.6,"y":0.09,"l":"d7"},{"x":0.7,"y":0,"l":"d7"}],
"cb":[{"x":0,"y":1.9,"l":"u3"},{"x":16,"y":2,"l":"u3"},{"x":0,"y":1.445,"l":"u4"},{"x":100,"y":1.76,"l":"u4"},{"x":0,"y":1.19,"l":"u5"},{"x":100,"y":1.335,"l":"u5"},{"x":0,"y":1.03,"l":"u6"},{"x":100,"y":1.065,"l":"u6"},{"x":0,"y":0.935,"l":"u7"},{"x":100,"y":0.85,"l":"u7"},
{"x":0,"y":0.86,"l":"u8"},{"x":12.5,"y":0.83,"l":"u8"},{"x":25,"y":0.78,"l":"u8"},{"x":37.5,"y":0.745,"l":"u8"},{"x":50,"y":0.71,"l":"u8"},{"x":62.5,"y":0.655,"l":"u8"},{"x":70,"y":0.62,"l":"u8"},{"x":73,"y":0.585,"l":"u8"},
{"x":0,"y":0.355,"l":"d8"},{"x":25,"y":0.385,"l":"d8"},{"x":50,"y":0.44,"l":"d8"},{"x":62.5,"y":0.49,"l":"d8"},{"x":70,"y":0.55,"l":"d8"},{"x":73,"y":0.585,"l":"d8"},
{"x":0,"y":0.795,"l":"u9"},{"x":6,"y":0.77,"l":"u9"},{"x":12.5,"y":0.73,"l":"u9"},{"x":18,"y":0.66,"l":"u9"},{"x":20,"y":0.605,"l":"u9"},
{"x":0,"y":0.45,"l":"d9"},{"x":12.5,"y":0.5,"l":"d9"},{"x":18,"y":0.55,"l":"d9"},{"x":20,"y":0.605,"l":"d9"},
{"x":0,"y":0.205,"l":"d7"},{"x":100,"y":0.255,"l":"d7"}],
"cc":[{"x":0.015,"y":0.52,"l":"u1"},{"x":0.02,"y":0.56,"l":"u1"},{"x":0.028,"y":0.64,"l":"u1"},{"x":0.04,"y":0.72,"l":"u1"},{"x":0.055,"y":0.8,"l":"u1"},{"x":0.08,"y":0.96,"l":"u1"},{"x":0.113,"y":1.2,"l":"u1"},{"x":0.14,"y":1.44,"l":"u1"},{"x":0.165,"y":1.68,"l":"u1"},{"x":0.19,"y":2,"l":"u1"},
{"x":0.03,"y":0.52,"l":"u2"},{"x":0.038,"y":0.56,"l":"u2"},{"x":0.055,"y":0.64,"l":"u2"},{"x":0.08,"y":0.72,"l":"u2"},{"x":0.105,"y":0.8,"l":"u2"},{"x":0.15,"y":0.96,"l":"u2"},{"x":0.22,"y":1.2,"l":"u2"},{"x":0.27,"y":1.44,"l":"u2"},{"x":0.315,"y":1.68,"l":"u2"},{"x":0.365,"y":2,"l":"u2"},
{"x":0.047,"y":0.52,"l":"u3"},{"x":0.058,"y":0.56,"l":"u3"},{"x":0.085,"y":0.64,"l":"u3"},{"x":0.125,"y":0.72,"l":"u3"},{"x":0.16,"y":0.8,"l":"u3"},{"x":0.23,"y":0.96,"l":"u3"},{"x":0.325,"y":1.2,"l":"u3"},{"x":0.405,"y":1.44,"l":"u3"},{"x":0.465,"y":1.68,"l":"u3"},{"x":0.52,"y":2,"l":"u3"},
{"x":0.064,"y":0.52,"l":"u4"},{"x":0.08,"y":0.56,"l":"u4"},{"x":0.115,"y":0.64,"l":"u4"},{"x":0.165,"y":0.72,"l":"u4"},{"x":0.21,"y":0.8,"l":"u4"},{"x":0.3,"y":0.96,"l":"u4"},{"x":0.415,"y":1.2,"l":"u4"},{"x":0.5,"y":1.44,"l":"u4"},{"x":0.58,"y":1.68,"l":"u4"},{"x":0.655,"y":2,"l":"u4"},
{"x":0.085,"y":0.52,"l":"u5"},{"x":0.1,"y":0.56,"l":"u5"},{"x":0.145,"y":0.64,"l":"u5"},{"x":0.205,"y":0.72,"l":"u5"},{"x":0.28,"y":0.8,"l":"u5"},{"x":0.375,"y":0.96,"l":"u5"},{"x":0.495,"y":1.2,"l":"u5"},{"x":0.6,"y":1.44,"l":"u5"},{"x":0.69,"y":1.68,"l":"u5"},{"x":0.775,"y":2,"l":"u5"},
{"x":0.11,"y":0.52,"l":"u6"},{"x":0.13,"y":0.56,"l":"u6"},{"x":0.185,"y":0.64,"l":"u6"},{"x":0.26,"y":0.72,"l":"u6"},{"x":0.35,"y":0.8,"l":"u6"},{"x":0.44,"y":0.96,"l":"u6"},{"x":0.58,"y":1.2,"l":"u6"},{"x":0.685,"y":1.44,"l":"u6"},{"x":0.775,"y":1.68,"l":"u6"},{"x":0.865,"y":2,"l":"u6"},
{"x":0.146,"y":0.52,"l":"u7"},{"x":0.17,"y":0.56,"l":"u7"},{"x":0.225,"y":0.64,"l":"u7"},{"x":0.31,"y":0.72,"l":"u7"},{"x":0.4,"y":0.8,"l":"u7"},{"x":0.51,"y":0.96,"l":"u7"},{"x":0.635,"y":1.2,"l":"u7"},{"x":0.75,"y":1.44,"l":"u7"},{"x":0.85,"y":1.68,"l":"u7"},{"x":0.94,"y":2,"l":"u7"},
{"x":0.2,"y":0.52,"l":"u8"},{"x":0.225,"y":0.56,"l":"u8"},{"x":0.28,"y":0.64,"l":"u8"},{"x":0.36,"y":0.72,"l":"u8"},{"x":0.45,"y":0.8,"l":"u8"},{"x":0.575,"y":0.96,"l":"u8"},{"x":0.7,"y":1.2,"l":"u8"},{"x":0.815,"y":1.44,"l":"u8"},{"x":0.91,"y":1.68,"l":"u8"},{"x":1,"y":2,"l":"u8"},
{"x":0.287,"y":0.557,"l":"u9"},{"x":0.3,"y":0.59,"l":"u9"},{"x":0.318,"y":0.62,"l":"u9"},{"x":0.39,"y":0.688,"l":"u9"},{"x":0.505,"y":0.8,"l":"u9"},{"x":0.625,"y":0.96,"l":"u9"},{"x":0.765,"y":1.2,"l":"u9"},{"x":0.865,"y":1.44,"l":"u9"},{"x":0.945,"y":1.68,"l":"u9"},{"x":1,"y":1.88,"l":"u9"},
{"x":0.015,"y":0.52,"l":"d1"},{"x":0.018,"y":0.48,"l":"d1"},{"x":0.033,"y":0.4,"l":"d1"},{"x":0.047,"y":0.32,"l":"d1"},{"x":0.064,"y":0.24,"l":"d1"},{"x":0.072,"y":0.16,"l":"d1"},{"x":0.08,"y":0.08,"l":"d1"},{"x":0.089,"y":0,"l":"d1"},
{"x":0.03,"y":0.52,"l":"d2"},{"x":0.038,"y":0.48,"l":"d2"},{"x":0.064,"y":0.4,"l":"d2"},{"x":0.095,"y":0.32,"l":"d2"},{"x":0.128,"y":0.24,"l":"d2"},{"x":0.155,"y":0.16,"l":"d2"},{"x":0.168,"y":0.08,"l":"d2"},{"x":0.176,"y":0,"l":"d2"},
{"x":0.047,"y":0.52,"l":"d3"},{"x":0.058,"y":0.48,"l":"d3"},{"x":0.09,"y":0.4,"l":"d3"},{"x":0.14,"y":0.32,"l":"d3"},{"x":0.183,"y":0.24,"l":"d3"},{"x":0.222,"y":0.16,"l":"d3"},{"x":0.245,"y":0.08,"l":"d3"},{"x":0.26,"y":0,"l":"d3"},
{"x":0.064,"y":0.52,"l":"d4"},{"x":0.078,"y":0.48,"l":"d4"},{"x":0.12,"y":0.4,"l":"d4"},{"x":0.18,"y":0.32,"l":"d4"},{"x":0.232,"y":0.24,"l":"d4"},{"x":0.285,"y":0.16,"l":"d4"},{"x":0.315,"y":0.08,"l":"d4"},{"x":0.335,"y":0,"l":"d4"},
{"x":0.085,"y":0.52,"l":"d5"},{"x":0.11,"y":0.48,"l":"d5"},{"x":0.165,"y":0.4,"l":"d5"},{"x":0.24,"y":0.32,"l":"d5"},{"x":0.297,"y":0.24,"l":"d5"},{"x":0.345,"y":0.16,"l":"d5"},{"x":0.39,"y":0.08,"l":"d5"},{"x":0.41,"y":0,"l":"d5"},
{"x":0.11,"y":0.52,"l":"d6"},{"x":0.145,"y":0.48,"l":"d6"},{"x":0.25,"y":0.4,"l":"d6"},{"x":0.3,"y":0.32,"l":"d6"},{"x":0.375,"y":0.24,"l":"d6"},{"x":0.42,"y":0.16,"l":"d6"},{"x":0.46,"y":0.08,"l":"d6"},{"x":0.48,"y":0,"l":"d6"},
{"x":0.146,"y":0.52,"l":"d7"},{"x":0.205,"y":0.48,"l":"d7"},{"x":0.33,"y":0.4,"l":"d7"},{"x":0.39,"y":0.32,"l":"d7"},{"x":0.46,"y":0.24,"l":"d7"},{"x":0.5,"y":0.16,"l":"d7"},{"x":0.53,"y":0.08,"l":"d7"},{"x":0.545,"y":0,"l":"d7"},
{"x":0.2,"y":0.52,"l":"d8"},{"x":0.25,"y":0.48,"l":"d8"},{"x":0.45,"y":0.4,"l":"d8"},{"x":0.505,"y":0.32,"l":"d8"},{"x":0.538,"y":0.24,"l":"d8"},{"x":0.57,"y":0.16,"l":"d8"},{"x":0.59,"y":0.08,"l":"d8"},{"x":0.605,"y":0,"l":"d8"},
{"x":0.287,"y":0.557,"l":"d9"},{"x":0.3,"y":0.535,"l":"d9"},{"x":0.318,"y":0.517,"l":"d9"},{"x":0.39,"y":0.496,"l":"d9"},{"x":0.495,"y":0.455,"l":"d9"},{"x":0.565,"y":0.4,"l":"d9"},{"x":0.6,"y":0.32,"l":"d9"},{"x":0.63,"y":0.24,"l":"d9"},{"x":0.65,"y":0.16,"l":"d9"},{"x":0.663,"y":0,"l":"d9"}],
"lg":[{"v":1.25},{"v":3.75},{"v":6.25},{"v":8.75},{"v":11.25},{"v":13.75},{"v":16.25},{"v":18.75},{"v":21.25},{"v":23.75},{"v":26.25},{"v":28.75},{"v":31.25},{"v":33.75},{"v":36.25},{"v":38.75},{"v":41.25},{"v":43.75},{"v":46.25},{"v":48.75},{"v":51.25},{"v":53.75},{"v":56.25},{"v":58.75},{"v":61.25},{"v":63.75},{"v":66.25},{"v":68.75},{"v":71.25},{"v":73.75},{"v":76.25},{"v":78.75},{"v":81.25},{"v":83.75},{"v":86.25},{"v":88.75},{"v":91.25},{"v":93.75},{"v":96.25},{"v":98.75}]
},
"columns":2,"bounds":"flush","spacing":{"column":86,"row":84},
"concat":[
{"width":320,"height":323,"title":"a.","layer":[
{"data":{"name":"a"},"encoding":{"x":{"field":"x","type":"quantitative","scale":{"domain":[0,0.7],"nice":false,"zero":false},"axis":{"values":[0,0.2,0.4,0.6,0.7],"labelExpr":"datum.value","title":"Proportion totally immune among vaccinated ( i )","titlePadding":2}},"y":{"field":"y","type":"quantitative","scale":{"domain":[0,2],"nice":false,"zero":false},"axis":{"values":[0,0.5,1,1.5,2],"labelExpr":"datum.value","title":"Relative hazard of re-infection (b)","titlePadding":5}},"color":{"field":"v","type":"quantitative","legend":null,"scale":{"domain":[0,12.5,37.5,62.5,87.5,100],"range":["#00007f","#0000ff","#00ffff","#ffff00","#ff0000","#7f0000"],"interpolate":"rgb"}},"stroke":{"field":"v","type":"quantitative","legend":null,"scale":{"domain":[0,12.5,37.5,62.5,87.5,100],"range":["#00007f","#0000ff","#00ffff","#ffff00","#ff0000","#7f0000"],"interpolate":"rgb"}}},
"layer":[{"mark":{"type":"rect","width":45.7,"height":12.92,"clip":true,"xOffset":-15.2,"yOffset":-4.3,"strokeWidth":1}},
{"mark":{"type":"rect","width":45.7,"height":12.92,"clip":true,"xOffset":0,"yOffset":-4.3,"opacity":0.5,"strokeWidth":0}},
{"mark":{"type":"rect","width":45.7,"height":12.92,"clip":true,"xOffset":15.2,"yOffset":-4.3,"opacity":0.333,"strokeWidth":0}},
{"mark":{"type":"rect","width":45.7,"height":12.92,"clip":true,"xOffset":-15.2,"yOffset":0,"opacity":0.25,"strokeWidth":0}},
{"mark":{"type":"rect","width":45.7,"height":12.92,"clip":true,"xOffset":0,"yOffset":0,"opacity":0.2,"strokeWidth":0}},
{"mark":{"type":"rect","width":45.7,"height":12.92,"clip":true,"xOffset":15.2,"yOffset":0,"opacity":0.167,"strokeWidth":0}},
{"mark":{"type":"rect","width":45.7,"height":12.92,"clip":true,"xOffset":-15.2,"yOffset":4.3,"opacity":0.143,"strokeWidth":0}},
{"mark":{"type":"rect","width":45.7,"height":12.92,"clip":true,"xOffset":0,"yOffset":4.3,"opacity":0.125,"strokeWidth":0}},
{"mark":{"type":"rect","width":45.7,"height":12.92,"clip":true,"xOffset":15.2,"yOffset":4.3,"opacity":0.111,"strokeWidth":0}}]},
{"data":{"name":"ca"},"mark":{"type":"line","stroke":"#808080","strokeWidth":1,"clip":true,"interpolate":"monotone"},"encoding":{"x":{"field":"x","type":"quantitative"},"y":{"field":"y","type":"quantitative"},"detail":{"field":"l"}}},
{"data":{"values":[{"x":0}]},"mark":{"type":"rule","stroke":"#000","strokeWidth":3,"strokeDash":[10,6]},"encoding":{"x":{"field":"x","type":"quantitative"}}},
{"data":{"values":[{"x":0.7}]},"mark":{"type":"rule","stroke":"#000","strokeWidth":3},"encoding":{"x":{"field":"x","type":"quantitative"}}}
]},
{"width":321,"height":323,"title":"b.","layer":[
{"data":{"name":"b"},"encoding":{"x":{"field":"x","type":"quantitative","scale":{"domain":[0,100],"nice":false,"zero":false},"axis":{"values":[0,25,50,75,100],"labelExpr":"datum.value","title":"Latency multiplier ( l )","titlePadding":2}},"y":{"field":"y","type":"quantitative","scale":{"domain":[0,2],"nice":false,"zero":false},"axis":{"values":[0,0.5,1,1.5,2],"labelExpr":"datum.value","title":"Relative hazard of re-infection (b)","titlePadding":5}},"color":{"field":"v","type":"quantitative","legend":null,"scale":{"domain":[0,12.5,37.5,62.5,87.5,100],"range":["#00007f","#0000ff","#00ffff","#ffff00","#ff0000","#7f0000"],"interpolate":"rgb"}},"stroke":{"field":"v","type":"quantitative","legend":null,"scale":{"domain":[0,12.5,37.5,62.5,87.5,100],"range":["#00007f","#0000ff","#00ffff","#ffff00","#ff0000","#7f0000"],"interpolate":"rgb"}}},
"layer":[{"mark":{"type":"rect","width":40.2,"height":12.92,"clip":true,"xOffset":-13.4,"yOffset":-4.3,"strokeWidth":1}},
{"mark":{"type":"rect","width":40.2,"height":12.92,"clip":true,"xOffset":0,"yOffset":-4.3,"opacity":0.5,"strokeWidth":0}},
{"mark":{"type":"rect","width":40.2,"height":12.92,"clip":true,"xOffset":13.4,"yOffset":-4.3,"opacity":0.333,"strokeWidth":0}},
{"mark":{"type":"rect","width":40.2,"height":12.92,"clip":true,"xOffset":-13.4,"yOffset":0,"opacity":0.25,"strokeWidth":0}},
{"mark":{"type":"rect","width":40.2,"height":12.92,"clip":true,"xOffset":0,"yOffset":0,"opacity":0.2,"strokeWidth":0}},
{"mark":{"type":"rect","width":40.2,"height":12.92,"clip":true,"xOffset":13.4,"yOffset":0,"opacity":0.167,"strokeWidth":0}},
{"mark":{"type":"rect","width":40.2,"height":12.92,"clip":true,"xOffset":-13.4,"yOffset":4.3,"opacity":0.143,"strokeWidth":0}},
{"mark":{"type":"rect","width":40.2,"height":12.92,"clip":true,"xOffset":0,"yOffset":4.3,"opacity":0.125,"strokeWidth":0}},
{"mark":{"type":"rect","width":40.2,"height":12.92,"clip":true,"xOffset":13.4,"yOffset":4.3,"opacity":0.111,"strokeWidth":0}}]},
{"data":{"name":"cb"},"mark":{"type":"line","stroke":"#808080","strokeWidth":1,"clip":true,"interpolate":"monotone"},"encoding":{"x":{"field":"x","type":"quantitative"},"y":{"field":"y","type":"quantitative"},"detail":{"field":"l"}}}
]},
{"width":321,"height":323,"title":"c.","layer":[
{"data":{"name":"c"},"encoding":{"x":{"field":"x","type":"quantitative","scale":{"domain":[0,1],"nice":false,"zero":false},"axis":{"values":[0,0.25,0.5,0.75,1],"labelExpr":"datum.value","title":"Vaccine coverage ( f )","titlePadding":2}},"y":{"field":"y","type":"quantitative","scale":{"domain":[0,2],"nice":false,"zero":false},"axis":{"values":[0,0.5,1,1.5,2],"labelExpr":"datum.value","title":"Relative hazard of re-infection (b)","titlePadding":5}},"color":{"field":"v","type":"quantitative","legend":null,"scale":{"domain":[0,12.5,37.5,62.5,87.5,100],"range":["#00007f","#0000ff","#00ffff","#ffff00","#ff0000","#7f0000"],"interpolate":"rgb"}},"stroke":{"field":"v","type":"quantitative","legend":null,"scale":{"domain":[0,12.5,37.5,62.5,87.5,100],"range":["#00007f","#0000ff","#00ffff","#ffff00","#ff0000","#7f0000"],"interpolate":"rgb"}}},
"layer":[{"mark":{"type":"rect","width":16.05,"height":12.92,"clip":true,"xOffset":-5.35,"yOffset":-4.3,"strokeWidth":1}},
{"mark":{"type":"rect","width":16.05,"height":12.92,"clip":true,"xOffset":0,"yOffset":-4.3,"opacity":0.5,"strokeWidth":0}},
{"mark":{"type":"rect","width":16.05,"height":12.92,"clip":true,"xOffset":5.35,"yOffset":-4.3,"opacity":0.333,"strokeWidth":0}},
{"mark":{"type":"rect","width":16.05,"height":12.92,"clip":true,"xOffset":-5.35,"yOffset":0,"opacity":0.25,"strokeWidth":0}},
{"mark":{"type":"rect","width":16.05,"height":12.92,"clip":true,"xOffset":0,"yOffset":0,"opacity":0.2,"strokeWidth":0}},
{"mark":{"type":"rect","width":16.05,"height":12.92,"clip":true,"xOffset":5.35,"yOffset":0,"opacity":0.167,"strokeWidth":0}},
{"mark":{"type":"rect","width":16.05,"height":12.92,"clip":true,"xOffset":-5.35,"yOffset":4.3,"opacity":0.143,"strokeWidth":0}},
{"mark":{"type":"rect","width":16.05,"height":12.92,"clip":true,"xOffset":0,"yOffset":4.3,"opacity":0.125,"strokeWidth":0}},
{"mark":{"type":"rect","width":16.05,"height":12.92,"clip":true,"xOffset":5.35,"yOffset":4.3,"opacity":0.111,"strokeWidth":0}}]},
{"data":{"name":"cc"},"mark":{"type":"line","stroke":"#808080","strokeWidth":1,"clip":true,"interpolate":"monotone"},"encoding":{"x":{"field":"x","type":"quantitative"},"y":{"field":"y","type":"quantitative"},"detail":{"field":"l"}}}
]},
{"width":321,"height":323,"layer":[
{"data":{"name":"lg"},"encoding":{"x":{"field":"v","type":"quantitative","scale":{"domain":[0,100],"range":[45,255],"nice":false,"zero":false},"axis":{"values":[0,25,50,75,100],"labelExpr":"datum.value/100","title":null,"domain":false,"ticks":false,"offset":-100,"labelFont":"Liberation Serif","labelFontSize":20,"labelColor":"#111","labelPadding":10}},"y":{"datum":0.5,"type":"quantitative","scale":{"domain":[0,1],"range":[222,173]},"axis":null},"color":{"field":"v","type":"quantitative","legend":null,"scale":{"domain":[0,12.5,37.5,62.5,87.5,100],"range":["#00007f","#0000ff","#00ffff","#ffff00","#ff0000","#7f0000"],"interpolate":"rgb"}}},
"layer":[{"mark":{"type":"rect","width":5.6,"height":49,"xOffset":-1.2}},{"mark":{"type":"rect","width":5.6,"height":49,"xOffset":1.2,"opacity":0.5}}]},
{"data":{"values":[{"v":25},{"v":50},{"v":75}]},"mark":{"type":"rule","stroke":"#000","strokeWidth":1.5},"encoding":{"x":{"field":"v","type":"quantitative"},"y":{"datum":0,"type":"quantitative"},"y2":{"datum":0.16}}},
{"data":{"values":[{"v":50,"t":"Overall effectiveness"}]},"mark":{"type":"text","font":"Liberation Serif","fontSize":26,"color":"#111","baseline":"alphabetic","dy":-31},"encoding":{"x":{"field":"v","type":"quantitative"},"y":{"datum":1,"type":"quantitative"},"text":{"field":"t"}}}
]}
]}
